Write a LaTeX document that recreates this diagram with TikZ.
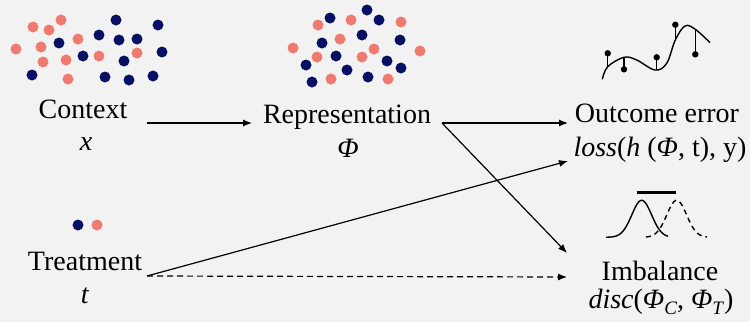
\documentclass[tikz,border=0pt]{standalone}
\usepackage{fontspec}
\setmainfont{Liberation Serif}
\usetikzlibrary{arrows.meta}
\definecolor{bg}{RGB}{242,242,242}
\definecolor{navy}{RGB}{8,16,100}
\definecolor{salmon}{RGB}{238,122,112}
\newcommand{\mysub}[1]{{\fontsize{19}{19}\selectfont\raisebox{-6pt}{#1}}}
\begin{document}
\begin{tikzpicture}[x=1pt,y=-1pt,
  font=\fontsize{28}{30}\selectfont,
  lbl/.style={anchor=base,inner sep=0pt},
  arr/.style={line width=1.2pt,-{Latex[length=9pt,width=7pt]}},
  icon/.style={line width=1.4pt}]
\fill[bg] (0,0) rectangle (750,322);
\useasboundingbox (0,0) rectangle (750,322);

% dots: context
\foreach \p in {(61,20),(33,27),(49,30),(16,49),(41,47),(78,39),(43,62),(66,60),(99,56),(137,53),(68,79)}
  \fill[salmon] \p circle (5.5pt);
\foreach \p in {(116,20),(158,25),(99,35),(59,43),(119,40),(137,39),(162,52),(83,56),(124,61),(32,75),(105,77),(129,80),(153,76)}
  \fill[navy] \p circle (5.5pt);
% dots: representation
\foreach \p in {(318,25),(351,20),(401,22),(340,39),(293,48),(317,57),(374,49),(362,57),(420,51),(331,79),(388,79)}
  \fill[salmon] \p circle (5.5pt);
\foreach \p in {(367,10),(330,18),(379,20),(362,35),(400,40),(322,43),(336,56),(306,65),(387,61),(401,68),(347,70),(368,77),(312,82)}
  \fill[navy] \p circle (5.5pt);
% dots: treatment
\fill[navy] (78,225) circle (5.5pt);
\fill[salmon] (97,225) circle (5.5pt);

% labels
\node[lbl] (ctx) at (83,118) {Context};
\node[lbl] (ctxv) at (86,150) {\textit{x}};
\node[lbl] (rep) at (347,123) {Representation};
\node[lbl] (repv) at (348,157) {\textit{Φ}};
\node[lbl] (out) at (657,122) {Outcome error};
\node[lbl] (outv) at (660,156) {\textit{loss}(\textit{h} (\textit{Φ}, t), y)};
\node[lbl] (imb) at (660,280) {Imbalance};
\node[lbl] (imbv) at (661,308) {\textit{disc}(\textit{Φ}\mysub{\textit{C}}, \textit{Φ}\mysub{\textit{T}})};
\node[lbl] (trt) at (85,270) {Treatment};
\node[lbl] (trtv) at (85,303) {\textit{t}};

% connector endpoints
\coordinate (ctx-out) at (147,123);
\coordinate (rep-in) at (252,123);
\coordinate (rep-out) at (442,123);
\coordinate (out-in1) at (568,123);
\coordinate (out-in2) at (568,161);
\coordinate (imb-in1) at (567,253);
\coordinate (imb-in2) at (567,277);
\coordinate (trt-out) at (147,276);

\draw[arr] (ctx-out) -- (rep-in);
\draw[arr] (rep-out) -- (out-in1);
\draw[arr] (rep-out) -- (imb-in1);
\draw[arr] (trt-out) -- (out-in2);
\draw[arr,dash pattern=on 6pt off 4pt] (trt-out) -- (imb-in2);

% outcome icon
\draw[icon] plot[smooth,tension=0.6] coordinates {(602.3,79.3) (607.7,66.7) (624,57.3) (636.7,60) (655,70) (666.7,63.3) (675.3,40) (685,26) (695.3,29.3) (710,42.7)};
\foreach \xx/\yd/\yc in {607.7/53.3/66.7, 624/69.3/57.3, 656.7/57.3/70, 675.3/24.7/40, 695.3/54.3/29.3}{
  \draw[line width=1.3pt] (\xx,\yd) -- (\xx,\yc);
  \fill (\xx,\yd) circle (3.2pt);
}

% imbalance icon
\draw[icon] plot[domain=606:668,samples=60] (\x,{237.3-37*exp(-((\x-641.7)/14)^2)});
\draw[icon,dash pattern=on 5pt off 4pt] plot[domain=646:707,samples=60] (\x,{237.3-37*exp(-((\x-676.7)/14)^2)});
\draw[line width=2.6pt] (636.7,192.3) -- (676,192.3);
\end{tikzpicture}
\end{document}
